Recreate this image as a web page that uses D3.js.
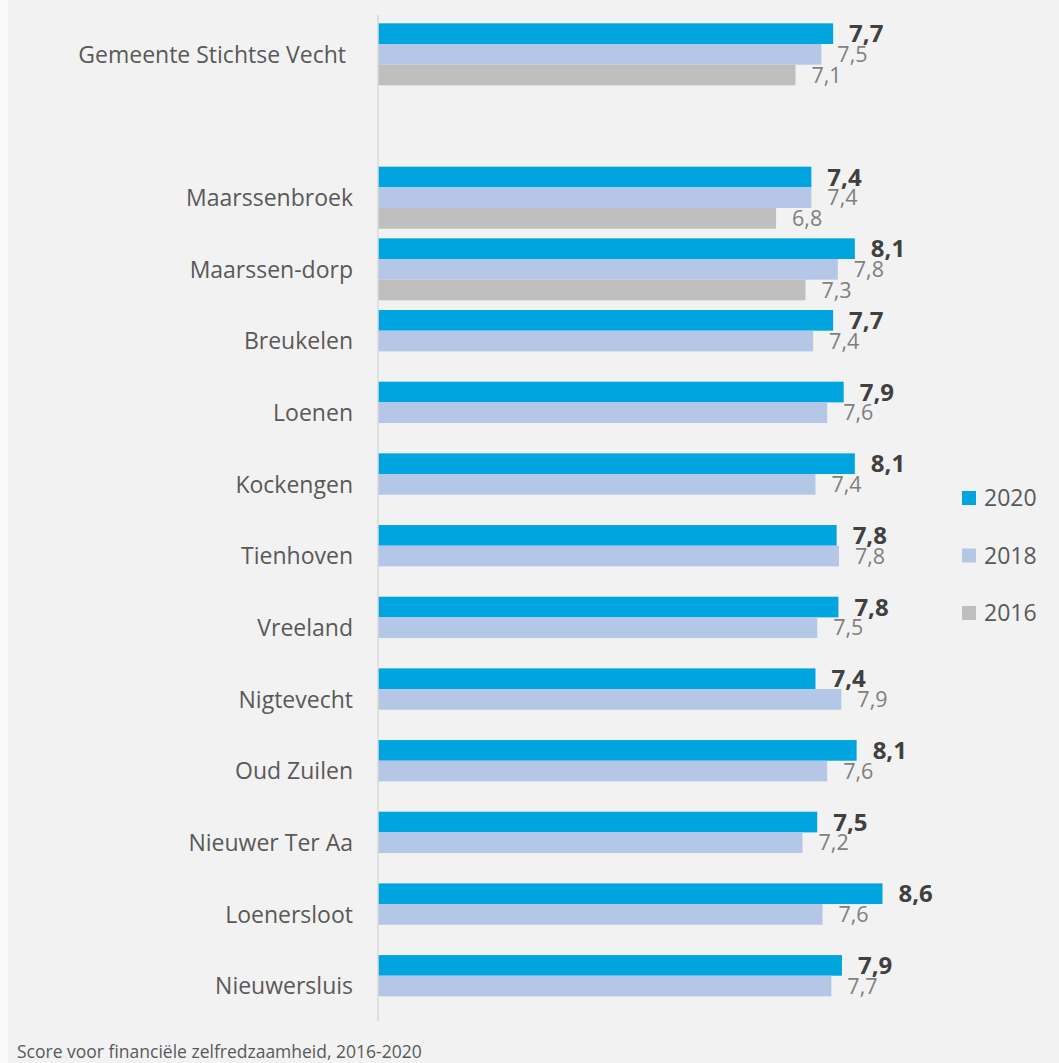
<!DOCTYPE html>
<html>
<head>
<meta charset="utf-8">
<script src="https://cdn.jsdelivr.net/npm/d3@7"></script>
<style>
  body { margin: 0; background: #ffffff; }
  svg text { font-family: "Open Sans", "Noto Sans", sans-serif; }
</style>
</head>
<body>
<script>
var width = 1059;
var height = 1063;

// categories (blank entry = empty row under the municipality total)
var categories = ["Gemeente Stichtse Vecht", "", "Maarssenbroek", "Maarssen-dorp", "Breukelen", "Loenen",
  "Kockengen", "Tienhoven", "Vreeland", "Nigtevecht", "Oud Zuilen", "Nieuwer Ter Aa", "Loenersloot", "Nieuwersluis"];
var series = ["2020", "2018", "2016"];

var values2020 = [7.74, null, 7.37, 8.11, 7.74, 7.92, 8.11, 7.80, 7.83, 7.44, 8.14, 7.47, 8.58, 7.89];
var values2018 = [7.54, null, 7.37, 7.82, 7.40, 7.64, 7.44, 7.84, 7.47, 7.88, 7.64, 7.22, 7.56, 7.71];
var values2016 = [7.10, null, 6.77, 7.27, null, null, null, null, null, null, null, null, null, null];

var caption = "Score voor financiële zelfredzaamheid, 2016-2020";

var colors = { "2020": "#00a5df", "2018": "#b4c7e7", "2016": "#bfbfbf" };

var rows = categories.map(function(c, i) {
  return { name: c, vals: [
    { key: "2020", v: values2020[i] },
    { key: "2018", v: values2018[i] },
    { key: "2016", v: values2016[i] }
  ]};
});

var svg = d3.select("body")
  .append("svg")
  .attr("width", width)
  .attr("height", height);

svg.append("rect")
  .attr("x", 0).attr("y", 0)
  .attr("width", width).attr("height", height)
  .attr("fill", "#f9f9f9");
svg.append("rect")
  .attr("x", 8).attr("y", 0)
  .attr("width", width - 8).attr("height", height)
  .attr("fill", "#f2f2f2");

var x = d3.scaleLinear().domain([0, 10]).range([378, 966]);

var y = d3.scaleBand()
  .domain(categories)
  .range([18.5, 1021.9])
  .paddingInner(0.135)
  .paddingOuter(0.0675);

var ySub = d3.scaleBand()
  .domain(series)
  .range([0, y.bandwidth()]);

var fmt = function(v) { return d3.format(".1f")(v).replace(".", ","); };

var group = svg.append("g")
  .selectAll("g")
  .data(rows)
  .enter().append("g")
    .attr("transform", function(d) { return "translate(0," + y(d.name) + ")"; });

group.selectAll("rect")
  .data(function(d) { return d.vals.filter(function(e) { return e.v != null; }); })
  .enter().append("rect")
    .attr("x", x(0))
    .attr("y", function(d) { return ySub(d.key); })
    .attr("width", function(d) { return x(d.v) - x(0); })
    .attr("height", ySub.bandwidth())
    .attr("fill", function(d) { return colors[d.key]; });

group.selectAll("text.val")
  .data(function(d) { return d.vals.filter(function(e) { return e.v != null; }); })
  .enter().append("text")
    .attr("class", "val")
    .attr("x", function(d) { return x(d.v) + 16; })
    .attr("y", function(d) { return ySub(d.key) + ySub.bandwidth() / 2; })
    .attr("dy", "0.36em")
    .attr("font-size", function(d) { return d.key == "2020" ? 24 : 21.5; })
    .attr("font-weight", function(d) { return d.key == "2020" ? "bold" : "normal"; })
    .attr("fill", function(d) { return d.key == "2020" ? "#404040" : "#7f7f7f"; })
    .text(function(d) { return fmt(d.v); });

// category labels
svg.append("g")
  .selectAll("text")
  .data(categories.filter(function(c) { return c != ""; }))
  .enter().append("text")
    .attr("x", function(d, i) { return i == 0 ? 346 : 353; })
    .attr("y", function(d) { return y(d) + y.bandwidth() / 2; })
    .attr("dy", "0.36em")
    .attr("text-anchor", "end")
    .attr("font-size", 23)
    .attr("fill", "#595959")
    .text(function(d) { return d; });

// vertical axis line
svg.append("line")
  .attr("x1", x(0)).attr("x2", x(0))
  .attr("y1", 15).attr("y2", 1021)
  .attr("stroke", "#d9d9d9")
  .attr("stroke-width", 1.5);

// legend
var legend = svg.append("g")
  .selectAll("g")
  .data(series)
  .enter().append("g")
    .attr("transform", function(d, i) { return "translate(962," + (491 + i * 57.5) + ")"; });

legend.append("rect")
  .attr("width", 14).attr("height", 14)
  .attr("fill", function(d) { return colors[d]; });

legend.append("text")
  .attr("x", 22)
  .attr("y", 7)
  .attr("dy", "0.36em")
  .attr("font-size", 23)
  .attr("fill", "#595959")
  .text(function(d) { return d; });

svg.append("text")
  .attr("x", 17)
  .attr("y", 1058)
  .attr("font-size", 17.5)
  .attr("fill", "#595959")
  .text(caption);
</script>
</body>
</html>
